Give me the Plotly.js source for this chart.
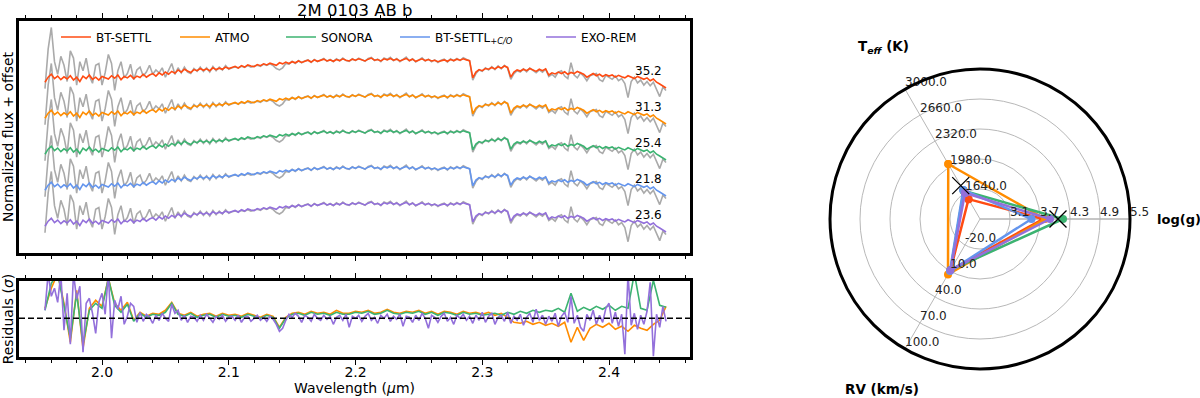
<!DOCTYPE html>
<html>
<head>
<meta charset="utf-8">
<script src="https://cdn.plot.ly/plotly-3.0.1.min.js"></script>
<style>
  html, body { margin: 0; padding: 0; background: #fff; }
  #chart { width: 1200px; height: 398px; }
</style>
</head>
<body>
<div id="chart"></div>
<script>
// wavelength sampling of the spectrum (micron)
const WAVE_START = 1.955;
const WAVE_STEP = 0.0025;
const WAVE_STEP_COARSE = 0.005;

const modelNames = ["BT-SETTL", "ATMO", "SONORA", "BT-SETTL<sub><i>+C/O</i></sub>", "EXO-REM"];
const modelColors = ["#ff4b12", "#ff8c00", "#3cb371", "#6495ed", "#9370db"];
const rowOffsets = [4.42, 3.42, 2.42, 1.42, 0.42];
const chi2Labels = ["35.2", "31.3", "25.4", "21.8", "23.6"];

// normalized observed flux (grey)
const observedFlux = [
  0.20, 1.30, 1.90, 0.95, 0.60, 1.10, 0.85, 0.40, 1.25, 1.05,
  0.30, 0.95, 0.70, 1.05, 0.55, 0.35, 0.85, 0.90, 0.30, 0.65,
  1.15, 0.90, 0.15, 0.70, 0.95, 0.50, 0.62, 0.88, 0.45, 0.72,
  0.80, 0.55, 0.66, 0.85, 0.60, 0.72, 0.64, 0.78, 0.52, 0.70,
  0.90, 0.60, 0.78, 0.64, 0.80, 0.66, 0.62, 0.76, 0.68, 0.80,
  0.68, 0.78, 0.66, 0.82, 0.70, 0.80, 0.72, 0.84, 0.74, 0.78,
  0.80, 0.78, 0.82, 0.79, 0.84, 0.80, 0.83, 0.85, 0.82, 0.88,
  0.85, 0.89, 0.84, 0.76, 0.72, 0.78, 0.90, 0.88, 0.96, 0.90,
  0.98, 0.92, 0.97, 1.00, 0.93, 1.01, 0.95, 0.99, 1.04, 0.96,
  1.01, 0.95, 1.03, 0.97, 1.05, 0.98, 0.96, 1.03, 0.98, 1.05,
  1.01, 0.96, 1.04, 1.07, 0.98, 1.02, 0.95, 1.05, 1.01, 1.07,
  0.98, 1.04, 0.95, 1.02, 1.08, 0.97, 1.03, 0.94, 1.01, 1.06,
  0.97, 1.02, 0.95, 1.00, 0.93, 0.99, 1.02, 0.94, 1.03, 0.97,
  1.04, 0.98, 1.06, 1.01, 0.97, 0.44, 0.62, 0.72, 0.68, 0.78,
  0.72, 0.81, 0.73, 0.83, 0.75, 0.85, 0.77, 0.46, 0.62, 0.70,
  0.66, 0.75, 0.67, 0.77, 0.70, 0.64, 0.72, 0.66, 0.74, 0.54,
  0.60, 0.52, 0.66, 0.70, 0.55, 0.48, 0.92, 0.58, 0.50, 0.64,
  0.55, 0.42, 0.56, 0.60, 0.62, 0.45, 0.40, 0.57, 0.52, 0.46,
  0.55, 0.42, 0.48, 0.34, -0.05, 0.40, 0.52, 0.36, 0.44, 0.30,
  0.40, 0.28, 0.38, 0.20, -0.02, 0.24, 0.15
];

// best-fit model flux, same for the five grids at this scale
const modelFlux = [
  0.38, 0.52, 0.60, 0.48, 0.55, 0.45, 0.53, 0.47, 0.56, 0.44,
  0.52, 0.40, 0.55, 0.48, 0.58, 0.46, 0.52, 0.44, 0.54, 0.50,
  0.47, 0.56, 0.49, 0.58, 0.45, 0.54, 0.50, 0.57, 0.48, 0.55,
  0.51, 0.60, 0.52, 0.58, 0.62, 0.55, 0.64, 0.58, 0.66, 0.60,
  0.68, 0.63, 0.72, 0.66, 0.74, 0.69, 0.65, 0.73, 0.70, 0.76,
  0.71, 0.75, 0.70, 0.78, 0.73, 0.77, 0.74, 0.80, 0.76, 0.79,
  0.82, 0.77, 0.84, 0.80, 0.86, 0.83, 0.81, 0.87, 0.84, 0.89,
  0.86, 0.91, 0.88, 0.85, 0.92, 0.89, 0.94, 0.90, 0.95, 0.92,
  0.97, 0.93, 0.96, 0.99, 0.94, 1.00, 0.96, 0.98, 1.02, 0.97,
  1.00, 0.96, 1.01, 0.98, 1.03, 0.99, 0.97, 1.02, 0.99, 1.03,
  1.00, 0.97, 1.02, 1.05, 0.99, 1.01, 0.97, 1.03, 1.00, 1.04,
  0.99, 1.02, 0.97, 1.01, 1.04, 0.98, 1.02, 0.96, 1.00, 1.03,
  0.98, 1.01, 0.97, 0.99, 0.95, 0.98, 1.00, 0.96, 1.01, 0.98,
  1.02, 0.99, 1.03, 1.00, 0.98, 0.50, 0.66, 0.73, 0.70, 0.76,
  0.74, 0.79, 0.75, 0.81, 0.77, 0.83, 0.79, 0.52, 0.66, 0.72,
  0.69, 0.74, 0.70, 0.76, 0.72, 0.68, 0.74, 0.70, 0.75, 0.58,
  0.64, 0.61, 0.66, 0.62, 0.67, 0.60, 0.65, 0.62, 0.68, 0.63,
  0.60, 0.52, 0.58, 0.62, 0.56, 0.60, 0.54, 0.59, 0.55, 0.58,
  0.52, 0.57, 0.53, 0.50, 0.56, 0.51, 0.48, 0.54, 0.49, 0.46,
  0.50, 0.42, 0.47, 0.38, 0.33, 0.28, 0.22
];

// residuals in sigma
const residExoRem = [
  0.8, 4.5, 2.2, 3.0, 1.6, 4.5, -1.2, 2.5, -2.6, 4.5,
  1.9, 3.2, -3.4, 1.5, 2.0, 0.5, -1.5, 1.6, 2.5, 0.4,
  4.5, -2.0, 1.8, 0.9, 2.2, -0.6, 0.2, 1.5, 1.2, -0.4,
  0.6, -0.3, 0.4, 0.1, -0.5, 0.3, -0.2, 0.5, 0.0, -0.3,
  1.4, 0.5, 0.8, -0.2, 0.3, -0.4, 0.2, 0.1, -0.3, 0.3,
  -0.2, 0.4, 0.0, -0.4, 0.2, -0.1, 0.3, -0.3, 0.1, 0.2,
  -0.2, 0.3, -0.4, 0.1, 0.2, -0.3, 0.0, 0.3, -0.2, 0.1,
  -0.3, 0.2, -0.1, -0.6, -1.3, -1.0, -0.2, 0.4, 0.1, 0.5,
  0.2, -0.4, 0.3, 0.1, -0.3, 0.4, 0.0, -0.2, 0.3, -0.1,
  0.2, -0.6, 0.1, 0.3, -0.2, 0.4, -0.9, 0.2, 0.0, 0.3,
  -0.3, 0.2, 0.5, -0.2, 0.1, -0.5, 0.3, 0.0, 0.4, -0.3,
  0.2, -0.1, 0.4, -0.8, 0.2, 0.1, -0.4, 0.3, -0.2, 0.5,
  0.0, -1.0, 0.3, 0.1, -0.4, 0.2, 0.5, -0.3, 0.1, -0.6,
  0.3, 0.0, 0.4, -0.2, 0.2, -0.5, 0.3, -0.2, 0.6, -0.4,
  0.2, 0.5, -0.6, 0.1, 0.3, -0.3, 0.6, -0.5, 0.2, -0.2,
  0.4, -0.7, 0.1, 0.5, -0.4, 0.9, -0.2, 0.3, -0.6, 0.2,
  -0.3, 0.5, -0.8, 0.2, 0.6, -0.4, 2.2, -0.5, 0.3, -0.9,
  -1.3, 0.4, -0.2, 0.8, -0.6, 0.3, -0.4, 1.0, 1.5, -0.5,
  0.6, -0.8, 0.4, -3.6, 4.5, -0.7, 0.5, -1.1, 0.3, -0.6,
  0.7, 3.6, -3.8, 0.4, -0.9, 1.2, -0.3
];

// coarser sampling for the grids mostly hidden below EXO-REM
const residAtmo = [
  1.0, 3.0, 4.5, 1.5, -2.4, 2.8, -3.0, 1.0, 1.8, 1.2,
  4.0, 1.5, 0.8, 1.6, -0.2, 0.6, 0.2, 0.5, 0.4, 0.8,
  1.6, 0.5, 0.3, 0.6, 0.2, 0.4, 0.5, 0.2, 0.5, 0.3,
  0.4, 0.2, 0.5, 0.3, 0.1, 0.4, 0.2, -0.9, 0.1, 0.5,
  0.6, 0.4, 0.7, 0.5, 0.6, 0.4, 0.8, 0.5, 0.5, 0.7,
  0.6, 0.8, 0.5, 0.6, 0.9, 0.6, 0.5, 0.7, 0.6, 0.8,
  0.5, 0.7, 0.4, 0.7, 0.6, 0.4, 0.7, 0.5, 0.6, 0.4,
  0.6, 0.3, 0.5, 0.1, -0.4, -0.5, -0.3, -0.6, -0.4, -0.7,
  -0.5, -0.8, -0.4, -2.4, -0.9, -2.2, -1.0, -0.6, -0.9, -0.5,
  -1.1, -0.8, -1.3, -0.7, -1.0, -1.2, -0.6, -0.2, 1.2
];
const residSonora = [
  0.8, 3.5, 4.5, 1.2, -2.0, 2.5, -2.6, 0.8, 1.5, 1.0,
  4.0, 1.3, 0.6, 1.4, -0.3, 0.5, 0.1, 0.4, 0.3, 0.6,
  1.5, 0.4, 0.2, 0.5, 0.1, 0.3, 0.4, 0.1, 0.4, 0.2,
  0.3, 0.1, 0.4, 0.2, 0.0, 0.3, 0.1, -1.0, 0.0, 0.4,
  0.5, 0.3, 0.6, 0.4, 0.5, 0.3, 0.6, 0.4, 0.4, 0.6,
  0.5, 0.7, 0.4, 0.5, 0.8, 0.5, 0.4, 0.6, 0.5, 0.7,
  0.4, 0.6, 0.3, 0.6, 0.5, 0.3, 0.6, 0.4, 0.5, 0.3,
  0.4, 0.5, 0.3, 0.6, 0.4, 0.7, 0.5, 0.8, 0.6, 0.8,
  0.7, 1.0, 0.6, 2.5, 0.7, 1.1, 0.8, 1.2, 0.9, 1.3,
  0.8, 1.2, 1.0, 4.5, 1.0, 0.8, 3.8, 1.3, 1.1
];

// radar: best-fit parameters of each grid
const radarTheta = [120, 0, 240];
const teffTicks = [1640, 1980, 2320, 2660, 3000];
const loggTicks = [3.1, 3.7, 4.3, 4.9, 5.5];
const rvTicks = [-20, 10, 40, 70, 100];
const fitTeff = [1560, 2020, 1670, 1680, 1640];
const fitLogg = [3.76, 3.80, 4.16, 3.53, 3.90];
const fitRV = [9, 14, 9, 10, 9];
const litTeff = 1737;
const litLogg = 4.06;

// left edge (px) of each legend entry, legends sit in one row
const legendLeft = [56, 175, 281, 395, 541];

const wave = observedFlux.map((_, i) => WAVE_START + i * WAVE_STEP);
const waveCoarse = residAtmo.map((_, i) => WAVE_START + i * WAVE_STEP_COARSE);

// ring number along a radar axis (ticks sit on rings 1..5)
function ringOf(value, ticks) {
  const step = ticks[1] - ticks[0];
  return (value - (ticks[0] - step)) / step;
}

const legendIds = ["legend", "legend2", "legend3", "legend4", "legend5"];
const traces = [];

rowOffsets.forEach((off) => {
  traces.push({
    x: wave, y: observedFlux.map((v) => v + off),
    xaxis: "x", yaxis: "y", mode: "lines",
    line: { color: "#aaaaaa", width: 1.6 },
    showlegend: false, hoverinfo: "skip"
  });
});

modelNames.forEach((name, k) => {
  traces.push({
    x: wave, y: modelFlux.map((v) => v + rowOffsets[k]),
    xaxis: "x", yaxis: "y", mode: "lines", name,
    legend: legendIds[k],
    line: { color: modelColors[k], width: 1.6 }
  });
});

[[waveCoarse, residAtmo, 1], [waveCoarse, residSonora, 2], [wave, residExoRem, 4]].forEach(([x, y, k]) => {
  traces.push({
    x, y, xaxis: "x2", yaxis: "y2", mode: "lines",
    line: { color: modelColors[k], width: 1.6 },
    showlegend: false
  });
});

// log(g) axis line running past the outer circle
traces.push({
  type: "scatterpolar", r: [0, 5.65], theta: [0, 0], mode: "lines",
  line: { color: "#b0b0b0", width: 1 }, cliponaxis: false,
  showlegend: false, hoverinfo: "skip"
});

modelNames.forEach((name, k) => {
  const r = [ringOf(fitTeff[k], teffTicks), ringOf(fitLogg[k], loggTicks), ringOf(fitRV[k], rvTicks)];
  traces.push({
    type: "scatterpolar",
    r: r.concat(r[0]),
    theta: radarTheta.concat(radarTheta[0]),
    mode: "lines+markers",
    line: { color: modelColors[k], width: 2.5 },
    marker: { color: modelColors[k], size: 8 },
    showlegend: false
  });
});

traces.push({
  type: "scatterpolar",
  r: [ringOf(litTeff, teffTicks), ringOf(litLogg, loggTicks)],
  theta: [radarTheta[0], radarTheta[1]],
  mode: "markers",
  marker: { symbol: "x-thin", size: 17, line: { color: "black", width: 1.3 } },
  showlegend: false
});

[[teffTicks, 0], [loggTicks, 1], [rvTicks, 2]].forEach(([ticks, a]) => {
  traces.push({
    type: "scatterpolar",
    r: ticks.map((_, i) => i + 1),
    theta: ticks.map(() => radarTheta[a]),
    mode: "text",
    text: ticks.map((t) => t.toFixed(1)),
    textposition: "top right",
    textfont: { size: 12, color: "#222" },
    cliponaxis: false,
    showlegend: false, hoverinfo: "skip"
  });
});

const xCommon = {
  range: [1.9345, 2.4639],
  showgrid: false, zeroline: false,
  showline: true, linewidth: 3, linecolor: "black", mirror: "allticks",
  ticks: "outside", ticklen: 5, tickwidth: 1, tickcolor: "black",
  tickvals: [2.0, 2.1, 2.2, 2.3, 2.4], tickformat: ".1f",
  minor: { dtick: 0.02, tick0: 2.0, ticks: "outside", ticklen: 3, tickcolor: "black", showgrid: false }
};
const yCommon = {
  showgrid: false, zeroline: false, ticks: "", showticklabels: false,
  showline: true, linewidth: 3, linecolor: "black", mirror: true
};

const layout = {
  width: 1200, height: 398,
  margin: { l: 0, r: 0, t: 0, b: 0 },
  paper_bgcolor: "white", plot_bgcolor: "white",
  font: { family: "DejaVu Sans", size: 14, color: "black" },
  showlegend: true,
  xaxis: Object.assign({}, xCommon, { domain: [19 / 1200, 690 / 1200], anchor: "y", showticklabels: false }),
  yaxis: Object.assign({}, yCommon, {
    domain: [1 - 253 / 398, 1 - 21 / 398], anchor: "x", range: [0.056, 6.5],
    title: { text: "Normalized flux + offset", font: { size: 14 } }
  }),
  xaxis2: Object.assign({}, xCommon, {
    domain: [19 / 1200, 690 / 1200], anchor: "y2",
    tickfont: { size: 14 }, ticklabelstandoff: -5
  }),
  yaxis2: Object.assign({}, yCommon, {
    domain: [1 - 357 / 398, 1 - 281 / 398], anchor: "x2", range: [-3.87, 3.73],
    title: { text: "Residuals (<i>σ</i>)", font: { size: 14 } }
  }),
  polar: {
    domain: { x: [830 / 1200, 1130 / 1200], y: [1 - 369 / 398, 1 - 69 / 398] },
    bgcolor: "white",
    radialaxis: {
      range: [0, 5], tickvals: [1, 2, 3, 4], showticklabels: false, ticks: "",
      showline: false, gridcolor: "#b8b8b8", gridwidth: 1
    },
    angularaxis: {
      tickvals: radarTheta, showticklabels: false, ticks: "",
      gridcolor: "#b8b8b8", gridwidth: 1,
      showline: true, linecolor: "black", linewidth: 3,
      direction: "counterclockwise", rotation: 0
    }
  },
  shapes: [{
    type: "line", xref: "x2 domain", x0: 0, x1: 1, yref: "y2", y0: 0, y1: 0,
    line: { color: "black", width: 1.5, dash: "6px,3px" }
  }],
  annotations: [
    {
      text: "2M 0103 AB b", xref: "paper", yref: "paper",
      x: (19 + 690) / 2 / 1200, y: 1 - 10 / 398, xanchor: "center", yanchor: "middle",
      showarrow: false, font: { size: 16.5 }
    },
    {
      text: "Wavelength (<i>μ</i>m)", xref: "paper", yref: "paper",
      x: (19 + 690) / 2 / 1200, y: 1 - 388 / 398, xanchor: "center", yanchor: "middle",
      showarrow: false, font: { size: 14 }
    },
    {
      text: "<b>T<sub><i>eff</i></sub> (K)</b>", xref: "paper", yref: "paper",
      x: 856 / 1200, y: 1 - 47 / 398, xanchor: "left", yanchor: "middle",
      showarrow: false, font: { size: 13.5 }
    },
    {
      text: "<b>log(g)</b>", xref: "paper", yref: "paper",
      x: 1155 / 1200, y: 1 - 220 / 398, xanchor: "left", yanchor: "middle",
      showarrow: false, font: { size: 13 }
    },
    {
      text: "<b>RV (km/s)</b>", xref: "paper", yref: "paper",
      x: 843 / 1200, y: 1 - 389 / 398, xanchor: "left", yanchor: "middle",
      showarrow: false, font: { size: 13.5 }
    }
  ].concat(chi2Labels.map((t, k) => ({
    text: t, xref: "x", yref: "y", x: 2.4315, y: rowOffsets[k] + 0.70,
    xanchor: "center", yanchor: "middle", showarrow: false, font: { size: 12 }
  })))
};

legendIds.forEach((id, k) => {
  layout[id] = {
    orientation: "h", x: legendLeft[k] / 1200, y: 1 - 37 / 398,
    xanchor: "left", yanchor: "middle",
    font: { size: 12 }, bgcolor: "rgba(0,0,0,0)"
  };
});

Plotly.newPlot("chart", traces, layout, { displayModeBar: false, staticPlot: true });
</script>
</body>
</html>
